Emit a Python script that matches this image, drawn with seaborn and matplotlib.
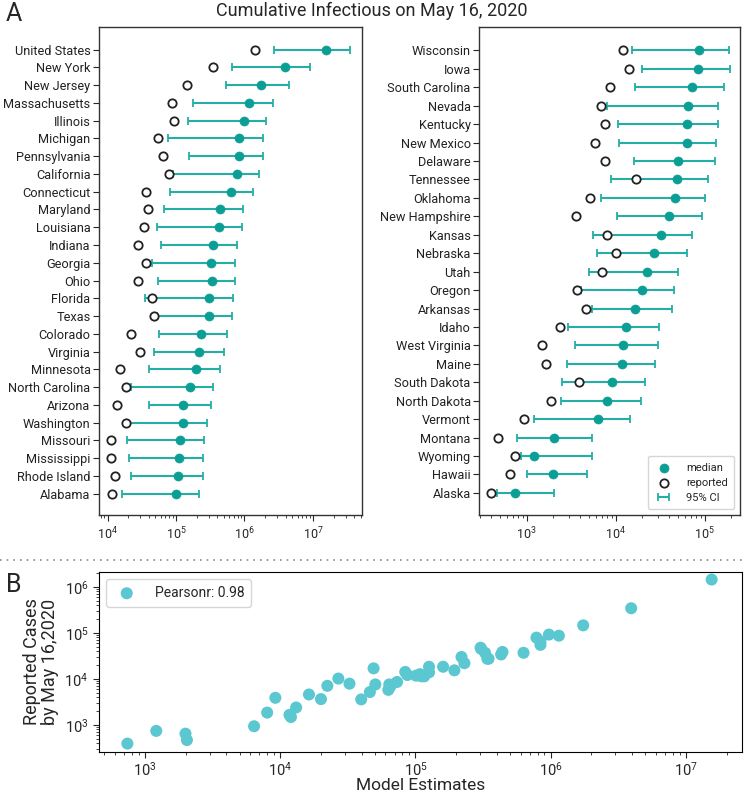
import numpy as np
import pandas as pd
import seaborn as sns
import matplotlib.pyplot as plt
from matplotlib.lines import Line2D

# --- data ---
left_states = ["United States", "New York", "New Jersey", "Massachusetts", "Illinois",
               "Michigan", "Pennsylvania", "California", "Connecticut", "Maryland",
               "Louisiana", "Indiana", "Georgia", "Ohio", "Florida", "Texas", "Colorado",
               "Virginia", "Minnesota", "North Carolina", "Arizona", "Washington",
               "Missouri", "Mississippi", "Rhode Island", "Alabama"]
left_median = [1.55e7, 3.94e6, 1.74e6, 1.15e6, 9.7e5, 8.4e5, 8.4e5, 7.85e5, 6.3e5, 4.4e5,
               4.3e5, 3.47e5, 3.27e5, 3.4e5, 3.06e5, 3.03e5, 2.3e5, 2.19e5, 1.94e5, 1.6e5,
               1.26e5, 1.26e5, 1.16e5, 1.11e5, 1.08e5, 1.01e5]
left_low = [2.7e6, 6.6e5, 5.4e5, 1.75e5, 1.51e5, 7.7e4, 1.53e5, 9.1e4, 8.2e4, 6.6e4,
            5.3e4, 6.0e4, 4.46e4, 5.4e4, 3.57e4, 5.2e4, 5.6e4, 4.7e4, 4.07e4, 2.18e4,
            4.0e4, 1.9e4, 1.93e4, 2.08e4, 2.18e4, 1.61e4]
left_high = [3.5e7, 9.0e6, 4.5e6, 2.64e6, 2.04e6, 1.86e6, 1.88e6, 1.64e6, 1.33e6, 9.6e5,
             9.3e5, 7.85e5, 7.2e5, 7.35e5, 6.7e5, 6.6e5, 5.5e5, 4.97e5, 4.4e5, 3.5e5,
             3.24e5, 2.8e5, 2.59e5, 2.48e5, 2.45e5, 2.19e5]
left_reported = [1.44e6, 3.43e5, 1.46e5, 8.7e4, 9.2e4, 5.5e4, 6.5e4, 7.9e4, 3.7e4, 3.86e4,
                 3.4e4, 2.75e4, 3.7e4, 2.75e4, 4.5e4, 4.77e4, 2.2e4, 3.0e4, 1.54e4, 1.84e4,
                 1.39e4, 1.84e4, 1.14e4, 1.14e4, 1.27e4, 1.18e4]

right_states = ["Wisconsin", "Iowa", "South Carolina", "Nevada", "Kentucky", "New Mexico",
                "Delaware", "Tennessee", "Oklahoma", "New Hampshire", "Kansas", "Nebraska",
                "Utah", "Oregon", "Arkansas", "Idaho", "West Virginia", "Maine",
                "South Dakota", "North Dakota", "Vermont", "Montana", "Wyoming", "Hawaii",
                "Alaska"]
right_median = [8.7e4, 8.4e4, 7.3e4, 6.5e4, 6.4e4, 6.3e4, 5.05e4, 4.9e4, 4.6e4, 3.97e4,
                3.25e4, 2.69e4, 2.23e4, 2.0e4, 1.63e4, 1.31e4, 1.2e4, 1.17e4, 9.2e3, 8.0e3,
                6.4e3, 2.04e3, 1.21e3, 1.99e3, 740]
right_low = [1.52e4, 1.99e4, 1.66e4, 8.1e3, 1.05e4, 1.08e4, 1.61e4, 8.8e3, 6.9e3, 1.04e4,
             5.5e3, 6.1e3, 5.05e3, 4.1e3, 5.45e3, 2.9e3, 3.5e3, 2.84e3, 2.5e3, 2.43e3,
             1.21e3, 778, 857, 1.02e3, 464]
right_high = [1.89e5, 1.92e5, 1.66e5, 1.41e5, 1.4e5, 1.35e5, 1.31e5, 1.09e5, 1.0e5, 9.4e4,
              7.2e4, 6.3e4, 5.0e4, 4.5e4, 4.3e4, 3.04e4, 2.99e4, 2.74e4, 2.13e4, 1.92e4,
              1.46e4, 5.4e3, 5.45e3, 4.8e3, 2.03e3]
right_reported = [1.22e4, 1.42e4, 8.6e3, 6.8e3, 7.6e3, 5.8e3, 7.6e3, 1.7e4, 5.2e3, 3.6e3,
                  7.9e3, 1.02e4, 7.1e3, 3.65e3, 4.6e3, 2.4e3, 1.49e3, 1.66e3, 3.9e3, 1.86e3,
                  940, 472, 745, 650, 395]

pearson_r = 0.98

TEAL = "#0a9e94"
CI_COL = "#25aea6"
CYAN = "#5bc7d0"

sns.set_style("ticks")
plt.rcParams['font.family'] = ['Roboto', 'DejaVu Sans']
plt.rcParams['axes.edgecolor'] = '#333333'

fig = plt.figure(figsize=(7.44, 7.98), dpi=100)
ax_l = fig.add_axes([0.133, 0.3546, 0.3535, 0.6116])
ax_r = fig.add_axes([0.6438, 0.3546, 0.3508, 0.6116])
ax_b = fig.add_axes([0.133, 0.0576, 0.8643, 0.2256])


def forest(ax, states, med, low, high, rep, xlim):
    df = pd.DataFrame({"state": states, "median": med, "low": low,
                       "high": high, "reported": rep})
    xerr = [df["median"] - df["low"], df["high"] - df["median"]]
    ax.errorbar(df["median"], df["state"], xerr=xerr, fmt="none", ecolor=CI_COL,
                elinewidth=1.5, capsize=3, capthick=1.3, label="95% CI")
    sns.scatterplot(data=df, x="median", y="state", ax=ax, color=TEAL, s=42,
                    edgecolor=TEAL, linewidth=0.5, label="median", zorder=3)
    sns.scatterplot(data=df, x="reported", y="state", ax=ax, facecolor="white",
                    edgecolor="#222222", linewidth=1.3, s=36, label="reported", zorder=4)
    ax.set_xscale("log")
    ax.set_xlim(*xlim)
    ax.set_ylim(len(states) + 0.2, -1.27)
    ax.set_xlabel("")
    ax.set_ylabel("")
    ax.tick_params(axis="y", labelsize=9.2, length=4, pad=2, labelcolor="#222222")
    ax.tick_params(axis="x", which="major", labelsize=9, length=4)
    ax.tick_params(axis="x", which="minor", length=2)
    for sp in ax.spines.values():
        sp.set_visible(True)
        sp.set_linewidth(1.0)
    ax.legend().remove()


forest(ax_l, left_states, left_median, left_low, left_high, left_reported, (7.5e3, 5.2e7))
forest(ax_r, right_states, right_median, right_low, right_high, right_reported, (291, 2.5e5))

h, lab = ax_r.get_legend_handles_labels()
order = [lab.index("median"), lab.index("reported"), lab.index("95% CI")]
ax_r.legend([h[i] for i in order], [lab[i] for i in order], loc="lower right",
            fontsize=8, frameon=True, handlelength=1.6, borderpad=0.6,
            labelspacing=0.45, handletextpad=1.2)

# panel B scatter
all_median = left_median + right_median
all_reported = left_reported + right_reported
sdf = pd.DataFrame({"model": all_median, "reported": all_reported})
sns.scatterplot(data=sdf, x="model", y="reported", ax=ax_b, color=CYAN, s=75,
                edgecolor="none", label=f"Pearsonr: {pearson_r:.2f}")
ax_b.set_xscale("log")
ax_b.set_yscale("log")
ax_b.set_xlim(456, 2.6e7)
ax_b.set_ylim(259, 2.1e6)
ax_b.set_xlabel("Model Estimates", fontsize=12.5, labelpad=0)
ax_b.set_ylabel("Reported Cases\nby May 16,2020", fontsize=13, linespacing=1.0)
ax_b.tick_params(axis="both", which="major", labelsize=10.5, length=4)
ax_b.tick_params(axis="x", which="major", pad=2)
ax_b.tick_params(axis="both", which="minor", length=2)
for sp in ax_b.spines.values():
    sp.set_visible(True)
    sp.set_color("black")
ax_b.legend(loc="upper left", fontsize=10, frameon=True, borderpad=0.5,
            handletextpad=1.0)

fig.text(0.5, 0.997, "Cumulative Infectious on May 16, 2020", ha="center", va="top",
         fontsize=13)
fig.text(0.008, 0.998, "A", ha="left", va="top", fontsize=18)
fig.text(0.008, 0.282, "B", ha="left", va="top", fontsize=18)
fig.add_artist(Line2D([0, 1], [0.298, 0.298], transform=fig.transFigure,
                      ls=(0, (1, 3)), color="#888888", lw=1.2))

fig.savefig("out.png", dpi=100)
